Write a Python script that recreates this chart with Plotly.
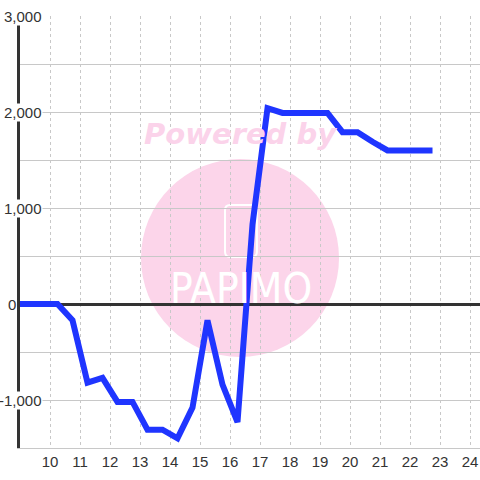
import plotly.graph_objects as go

# ---- data ----
hours = [8.75, 9.25, 9.75, 10.25, 10.75, 11.25, 11.75, 12.25, 12.75, 13.25,
         13.75, 14.25, 14.75, 15.25, 15.75, 16.25, 16.75, 17.25, 17.75, 18.25,
         18.75, 19.25, 19.75, 20.25, 20.75, 21.25, 21.75, 22.25, 22.75]
values = [0, 0, 0, 0, -170, -820, -770, -1020, -1020, -1310,
          -1310, -1400, -1080, -170, -840, -1230, 830, 2040, 1990, 1990,
          1990, 1990, 1790, 1790, 1690, 1600, 1600, 1600, 1600]
x_ticks = list(range(10, 25))
y_grid = [-1500, -1000, -500, 0, 500, 1000, 1500, 2000, 2500, 3000]
y_label_vals = [3000, 2000, 1000, 0, -1000]
y_label_text = ["3,000", "2,000", "1,000", "0", "-1,000"]

fig = go.Figure()
fig.add_trace(go.Scatter(
    x=hours, y=values, mode="lines",
    line=dict(color="#1f35ff", width=6),
    hoverinfo="skip", showlegend=False,
))

# watermark (background)
fig.add_shape(type="circle", xref="paper", yref="paper",
              x0=0.263, x1=0.6935, y0=0.2106, y1=0.669,
              fillcolor="#fcd5ea", line=dict(width=0), layer="below")


def rounded_rect(x0, x1, y0, y1, rx, ry):
    return (f"M {x0+rx},{y0} L {x1-rx},{y0} Q {x1},{y0} {x1},{y0+ry} "
            f"L {x1},{y1-ry} Q {x1},{y1} {x1-rx},{y1} L {x0+rx},{y1} "
            f"Q {x0},{y1} {x0},{y1-ry} L {x0},{y0+ry} Q {x0},{y0} {x0+rx},{y0} Z")


fig.add_shape(type="path", xref="paper", yref="paper",
              path=rounded_rect(0.4457, 0.515, 0.442, 0.5625, 0.011, 0.012),
              fillcolor="rgba(0,0,0,0)", line=dict(color="white", width=2),
              layer="below")

annotations = [
    dict(text="Powered by", xref="paper", yref="paper", x=0.48, y=0.727,
         showarrow=False, xanchor="center", yanchor="middle",
         font=dict(family="DejaVu Sans", size=29, color="#fbd3ea",
                   weight="bold", style="italic")),
    dict(text="PAPIMO", xref="paper", yref="paper", x=0.48, y=0.370,
         showarrow=False, xanchor="center", yanchor="middle",
         font=dict(family="Liberation Sans Narrow, DejaVu Sans Condensed, Arial",
                   size=42, color="white")),
]
for v, t in zip(y_label_vals, y_label_text):
    px = 17 if v == 0 else 43
    annotations.append(dict(
        text=t, xref="paper", yref="y", x=(px - 20) / 460, y=v,
        xanchor="right", yanchor="middle", showarrow=False,
        bgcolor="white", borderpad=0,
        font=dict(family="Liberation Sans, Arial", size=15, color="#333333"),
    ))

fig.update_layout(
    width=480, height=480,
    margin=dict(l=20, r=0, t=16, b=32),
    paper_bgcolor="white", plot_bgcolor="white",
    annotations=annotations,
    xaxis=dict(
        range=[9, 24.333], tickvals=x_ticks, ticktext=[str(t) for t in x_ticks],
        showgrid=True, gridcolor="#c8c8c8", griddash="dot", gridwidth=1,
        zeroline=False, showline=True, linecolor="#c8c8c8", linewidth=1,
        ticks="", tickfont=dict(family="Liberation Sans, Arial", size=15, color="#333333"),
        fixedrange=True,
    ),
    yaxis=dict(
        range=[-1500, 3000], tickvals=y_grid, showticklabels=False,
        showgrid=True, gridcolor="#c8c8c8", gridwidth=1,
        zeroline=True, zerolinecolor="#333333", zerolinewidth=3,
        showline=True, linecolor="#333333", linewidth=3, ticks="",
        fixedrange=True,
    ),
)

fig.write_html("out.html",
               config={"displayModeBar": False},
               post_script="document.body.style.margin='0';document.body.style.overflow='hidden';")
